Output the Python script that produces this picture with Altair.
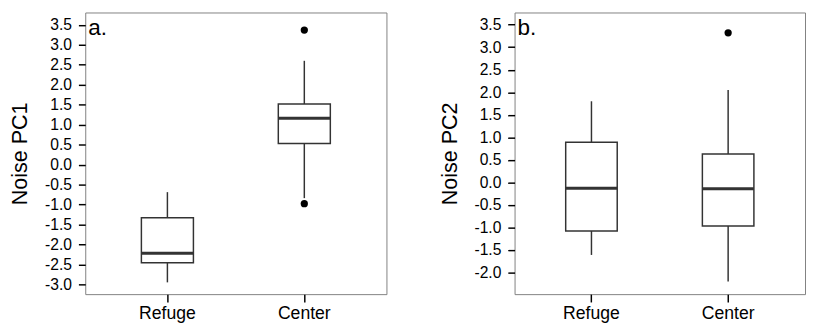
import altair as alt
import pandas as pd

groups = ["Refuge", "Center"]

# Panel a: Noise PC1 box statistics
pc1_low = [-2.95, -0.84]
pc1_q1 = [-2.46, 0.53]
pc1_med = [-2.22, 1.16]
pc1_q3 = [-1.33, 1.52]
pc1_high = [-0.69, 2.60]
pc1_out_group = ["Center", "Center"]
pc1_out_val = [3.37, -0.98]

# Panel b: Noise PC2 box statistics
pc2_low = [-1.61, -2.20]
pc2_q1 = [-1.08, -0.97]
pc2_med = [-0.13, -0.14]
pc2_q3 = [0.89, 0.63]
pc2_high = [1.80, 2.05]
pc2_out_group = ["Center"]
pc2_out_val = [3.32]

ticks_a = [-3.0, -2.5, -2.0, -1.5, -1.0, -0.5, 0.0, 0.5, 1.0, 1.5, 2.0, 2.5, 3.0, 3.5]
ticks_b = [-2.0, -1.5, -1.0, -0.5, 0.0, 0.5, 1.0, 1.5, 2.0, 2.5, 3.0, 3.5]

FONT = "Liberation Sans"
DARK = "#333333"


def panel(low, q1, med, q3, high, og, ov, ticks, domain, title, letter,
          width, pin, pout):
    box = pd.DataFrame({"group": groups, "low": low, "q1": q1, "med": med,
                        "q3": q3, "high": high})
    out = pd.DataFrame({"group": og, "val": ov})
    xs = alt.X("group:N", sort=groups,
               scale=alt.Scale(domain=groups, paddingInner=pin, paddingOuter=pout),
               axis=alt.Axis(title=None, labelAngle=0, labelFontSize=18,
                             tickSize=8, labelPadding=3))
    yscale = alt.Scale(domain=domain, nice=False, zero=False)
    yaxis = alt.Axis(title=title, values=ticks, format=".1f",
                     labelExpr="replace(datum.label, '\u2212', '-')",
                     labelOverlap=False, labelFlush=False,
                     labelFontSize=16, titleFontSize=22, tickSize=7,
                     labelPadding=7, titlePadding=13)
    base = alt.Chart(box)
    whisk = base.mark_rule(color=DARK, strokeWidth=1.5).encode(
        x=xs, y=alt.Y("low:Q", scale=yscale, axis=yaxis), y2="high:Q")
    rect = base.mark_bar(fill="white", stroke=DARK, strokeWidth=1.5).encode(
        x=xs, y=alt.Y("q1:Q", scale=yscale, axis=yaxis), y2="q3:Q")
    medl = base.mark_bar(fill=DARK, stroke=DARK, strokeWidth=3).encode(
        x=xs, y=alt.Y("med:Q", scale=yscale, axis=yaxis), y2="med:Q")
    pts = alt.Chart(out).mark_circle(color="black", opacity=1, size=55).encode(
        x=xs, y=alt.Y("val:Q", scale=yscale, axis=yaxis))
    lab = alt.Chart(pd.DataFrame({"t": [letter]})).mark_text(
        align="left", baseline="top", fontSize=23, font=FONT, color="black"
    ).encode(text="t:N", x=alt.value(3), y=alt.value(5))
    return alt.layer(whisk, rect, medl, pts, lab).properties(width=width, height=288)


a = panel(pc1_low, pc1_q1, pc1_med, pc1_q3, pc1_high, pc1_out_group, pc1_out_val,
          ticks_a, [-3.245, 3.81], "Noise PC1", "a.", 308, 0.62, 0.41)
b = panel(pc2_low, pc2_q1, pc2_med, pc2_q3, pc2_high, pc2_out_group, pc2_out_val,
          ticks_b, [-2.48, 3.77], "Noise PC2", "b.", 297, 0.623, 0.374)

chart = alt.hconcat(a, b, spacing=51).properties(
    padding={"left": 0, "top": 0, "right": 0, "bottom": 0}
).configure(font=FONT).configure_view(
    stroke="#808080", strokeWidth=1
).configure_axis(
    domain=False, grid=False, tickColor="black", tickWidth=1.5,
    labelColor="black", titleColor="black", titleFontWeight="normal",
    labelFont=FONT, titleFont=FONT
)

chart.save("out.html", embed_options={"renderer": "svg", "actions": False})
